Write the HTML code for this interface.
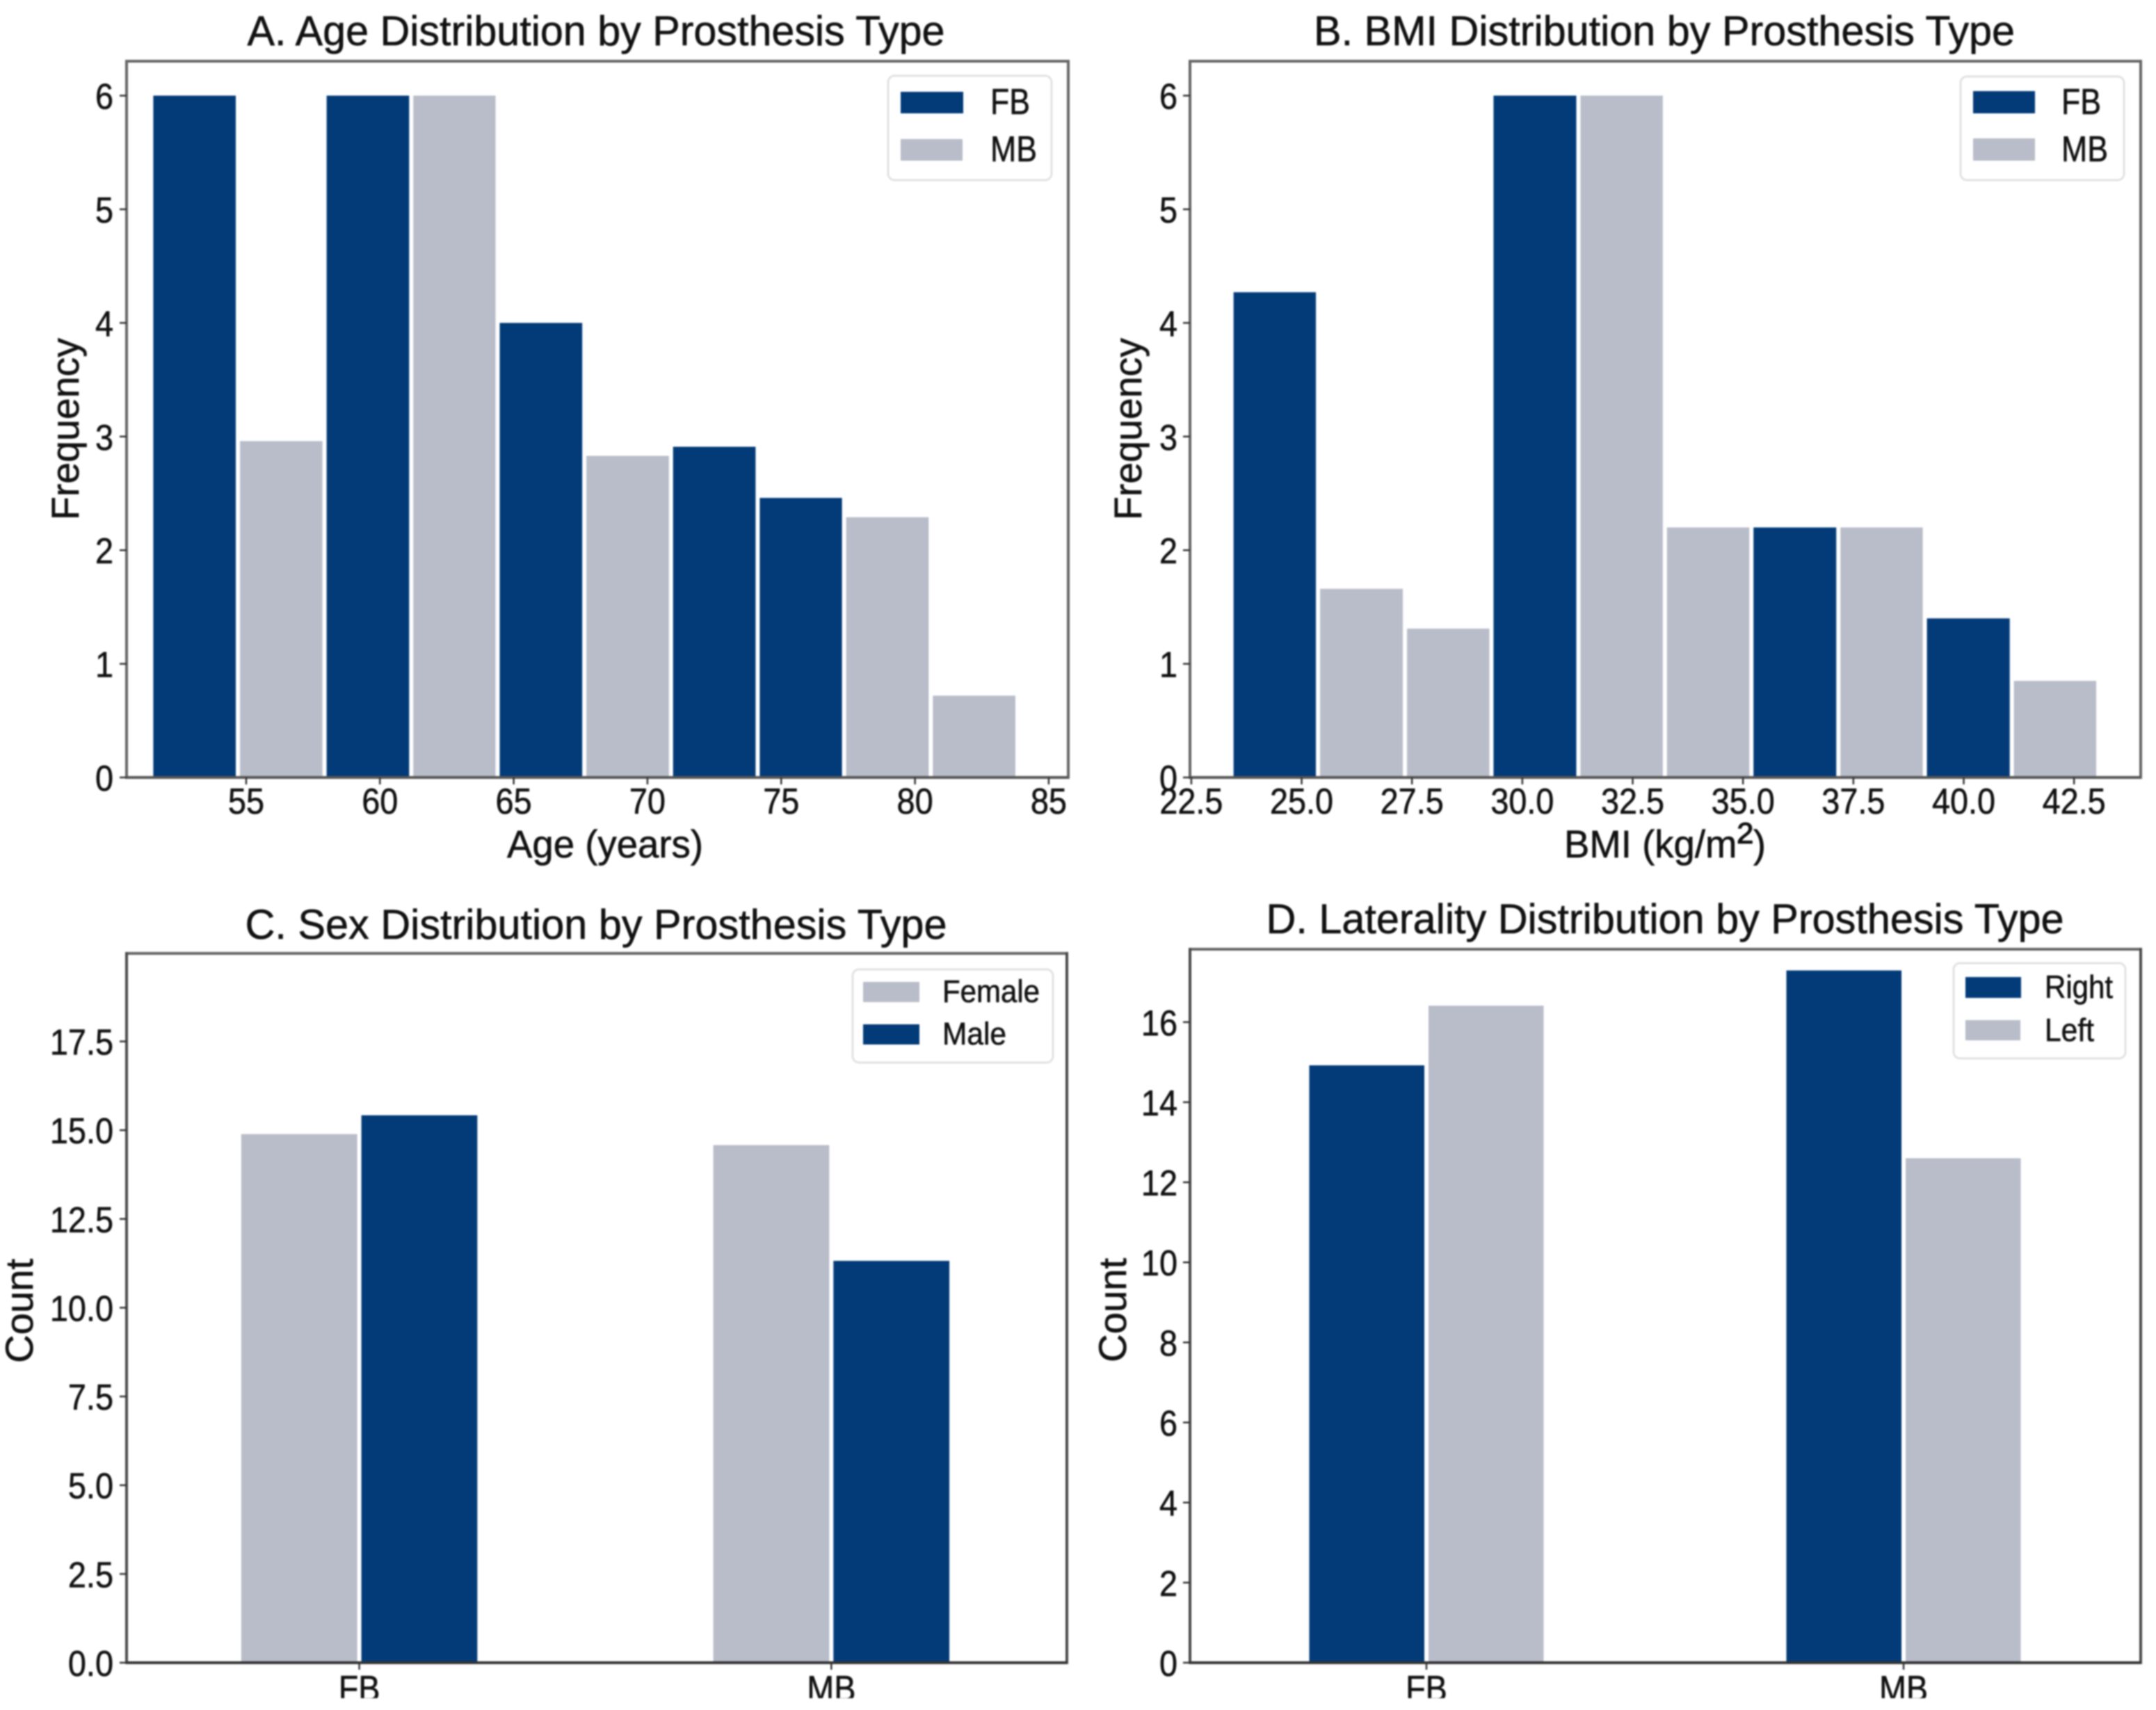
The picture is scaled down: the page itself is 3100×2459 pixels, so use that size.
<!DOCTYPE html>
<html lang="en">
<head>
<meta charset="utf-8">
<title>Prosthesis Type Distributions</title>
<style>
html,body{margin:0;padding:0;background:#fff;}
body{width:3100px;height:2459px;overflow:hidden;}
svg{display:block;filter:blur(1.1px);}
text{font-family:"Liberation Sans",Arial,sans-serif;fill:#111;stroke:#111;stroke-width:0.6px;}
.title{font-size:60px;}
.axis-label{font-size:56px;}
.legend-box{fill:#fff;stroke:#e2e2e2;stroke-width:3;}
.navy{fill:#033b78;}
.gray{fill:#b9bdc9;}
</style>
</head>
<body>
<svg id="figure" width="3100" height="2459" viewBox="0 0 3100 2459">
  <defs>
    <clipPath id="page-clip"><rect x="0" y="0" width="3100" height="2442"></rect></clipPath>
  </defs>
  <rect x="0" y="0" width="3100" height="2459" fill="#ffffff"></rect>

  <g>
    <g id="marks-a"></g>
    <text class="title" x="857" y="65" text-anchor="middle" textLength="1003" lengthAdjust="spacingAndGlyphs">A. Age Distribution by Prosthesis Type</text>
    <text class="axis-label" x="870" y="1233" text-anchor="middle" textLength="282" lengthAdjust="spacingAndGlyphs">Age (years)</text>
    <text class="axis-label" text-anchor="middle" textLength="262" lengthAdjust="spacingAndGlyphs" transform="translate(113,617) rotate(-90)">Frequency</text>
    <g>
      <rect class="legend-box" x="1277" y="109" width="235" height="150" rx="9"></rect>
      <rect class="navy" x="1295" y="132" width="90" height="31"></rect>
      <rect class="gray" x="1295" y="200" width="89" height="31"></rect>
      <text x="1424" y="164" font-size="52" textLength="57" lengthAdjust="spacingAndGlyphs">FB</text>
      <text x="1424" y="232" font-size="52" textLength="67" lengthAdjust="spacingAndGlyphs">MB</text>
    </g>
  </g>

  <g>
    <g id="marks-b"></g>
    <text class="title" x="2393" y="65" text-anchor="middle" textLength="1008" lengthAdjust="spacingAndGlyphs">B. BMI Distribution by Prosthesis Type</text>
    <text class="axis-label" x="2394" y="1233" text-anchor="middle" textLength="290" lengthAdjust="spacingAndGlyphs">BMI (kg/m<tspan font-size="72">²</tspan>)</text>
    <text class="axis-label" text-anchor="middle" textLength="262" lengthAdjust="spacingAndGlyphs" transform="translate(1641,617) rotate(-90)">Frequency</text>
    <g>
      <rect class="legend-box" x="2819" y="110" width="235" height="149" rx="9"></rect>
      <rect class="navy" x="2837" y="131" width="89" height="32"></rect>
      <rect class="gray" x="2837" y="199" width="89" height="32"></rect>
      <text x="2964" y="164" font-size="52" textLength="57" lengthAdjust="spacingAndGlyphs">FB</text>
      <text x="2964" y="232" font-size="52" textLength="67" lengthAdjust="spacingAndGlyphs">MB</text>
    </g>
  </g>

  <g clip-path="url(#page-clip)">
    <g id="marks-c"></g>
    <text class="title" x="857" y="1350" text-anchor="middle" textLength="1009" lengthAdjust="spacingAndGlyphs">C. Sex Distribution by Prosthesis Type</text>
    <text class="axis-label" text-anchor="middle" textLength="150" lengthAdjust="spacingAndGlyphs" transform="translate(47,1885) rotate(-90)">Count</text>
    <g>
      <rect class="legend-box" x="1226" y="1394" width="288" height="134" rx="9"></rect>
      <rect class="gray" x="1241" y="1412" width="81" height="29"></rect>
      <rect class="navy" x="1241" y="1473" width="81" height="29"></rect>
      <text x="1355" y="1441" font-size="45" textLength="140" lengthAdjust="spacingAndGlyphs">Female</text>
      <text x="1355" y="1502" font-size="45" textLength="92" lengthAdjust="spacingAndGlyphs">Male</text>
    </g>
  </g>

  <g clip-path="url(#page-clip)">
    <g id="marks-d"></g>
    <text class="title" x="2394" y="1342" text-anchor="middle" textLength="1147" lengthAdjust="spacingAndGlyphs">D. Laterality Distribution by Prosthesis Type</text>
    <text class="axis-label" text-anchor="middle" textLength="150" lengthAdjust="spacingAndGlyphs" transform="translate(1619,1884) rotate(-90)">Count</text>
    <g>
      <rect class="legend-box" x="2809" y="1385" width="247" height="137" rx="9"></rect>
      <rect class="navy" x="2826" y="1405" width="80" height="30"></rect>
      <rect class="gray" x="2826" y="1467" width="79" height="29"></rect>
      <text x="2940" y="1435" font-size="46" textLength="98" lengthAdjust="spacingAndGlyphs">Right</text>
      <text x="2940" y="1497" font-size="46" textLength="71" lengthAdjust="spacingAndGlyphs">Left</text>
    </g>
  </g>
</svg>

<script>
// Chart A: age histogram
const ageBinEdges = [51.45, 54.69, 57.93, 61.17, 64.40, 67.64, 70.88, 74.12, 77.35, 80.59, 83.83];
const ageCounts = [6, 2.96, 6, 6, 4, 2.83, 2.91, 2.46, 2.29, 0.72];
const ageGroups = ['FB', 'MB', 'FB', 'MB', 'FB', 'MB', 'FB', 'FB', 'MB', 'MB'];
const ageXTicks = ['55', '60', '65', '70', '75', '80', '85'];
const ageYTicks = ['0', '1', '2', '3', '4', '5', '6'];

// Chart B: BMI histogram
const bmiBinEdges = [23.41, 25.37, 27.34, 29.30, 31.27, 33.23, 35.19, 37.16, 39.12, 41.09, 43.05];
const bmiCounts = [4.27, 1.66, 1.31, 6, 6, 2.2, 2.2, 2.2, 1.4, 0.85];
const bmiGroups = ['FB', 'MB', 'MB', 'FB', 'MB', 'MB', 'FB', 'MB', 'FB', 'MB'];
const bmiXTicks = ['22.5', '25.0', '27.5', '30.0', '32.5', '35.0', '37.5', '40.0', '42.5'];
const bmiYTicks = ['0', '1', '2', '3', '4', '5', '6'];

// Chart C: sex by prosthesis
const sexCategories = ['FB', 'MB'];
const sexFemale = [14.89, 14.58];
const sexMale = [15.42, 11.32];
const sexYTicks = ['0.0', '2.5', '5.0', '7.5', '10.0', '12.5', '15.0', '17.5'];

// Chart D: laterality by prosthesis
const lateralityCategories = ['FB', 'MB'];
const lateralityRight = [14.92, 17.29];
const lateralityLeft = [16.41, 12.60];
const lateralityYTicks = ['0', '2', '4', '6', '8', '10', '12', '14', '16'];

const NAVY = '#033b78';
const GRAY = '#b9bdc9';
const svgNS = document.getElementById('figure').namespaceURI;

function makeScale(d0, d1, r0, r1) {
  return function (v) { return r0 + (v - d0) * (r1 - r0) / (d1 - d0); };
}

function addBar(parent, x0, x1, yTop, yBase, color, name) {
  const gap = 3;
  const r = document.createElementNS(svgNS, 'rect');
  r.setAttribute('x', x0 + gap);
  r.setAttribute('y', yTop);
  r.setAttribute('width', Math.max(0, x1 - x0 - 2 * gap));
  r.setAttribute('height', Math.max(0, yBase - yTop));
  r.setAttribute('fill', color);
  
  
  parent.appendChild(r);
}

function addTickLabel(parent, x, y, str, anchor, name) {
  const t = document.createElementNS(svgNS, 'text');
  t.setAttribute('x', x);
  t.setAttribute('y', y);
  t.setAttribute('font-size', '52');
  t.setAttribute('text-anchor', anchor);
  t.textContent = str;
  
  
  parent.appendChild(t);
  t.setAttribute('lengthAdjust', 'spacingAndGlyphs');
  t.setAttribute('textLength', (t.getComputedTextLength() * 0.9).toFixed(1));
}

function addLine(parent, x1, y1, x2, y2, color, width, name) {
  const l = document.createElementNS(svgNS, 'line');
  l.setAttribute('x1', x1);
  l.setAttribute('y1', y1);
  l.setAttribute('x2', x2);
  l.setAttribute('y2', y2);
  l.setAttribute('stroke', color);
  l.setAttribute('stroke-width', width);
  
  
  parent.appendChild(l);
}

function drawFrame(parent, box, prefix, colors) {
  addLine(parent, box.left, box.top, box.right, box.top, colors.top, 4, prefix + '-top-spine');
  addLine(parent, box.right, box.top - 2, box.right, box.bottom + 2, colors.side, 4, prefix + '-right-spine');
  addLine(parent, box.left, box.top - 2, box.left, box.bottom + 2, colors.side, 4, prefix + '-left-spine');
  addLine(parent, box.left, box.bottom, box.right, box.bottom, colors.bottom, 4, prefix + '-bottom-spine');
}

function drawYAxis(parent, box, y, ticks, prefix) {
  ticks.forEach(function (label) {
    const py = y(parseFloat(label));
    addLine(parent, box.left - 10, py, box.left, py, '#333333', 2.5, prefix + '-y-tick');
    addTickLabel(parent, box.tickRight, py + 19, label, 'end', prefix + '-y-tick-label');
  });
}

function drawHistogram(id, box, xDomain, yDomain, edges, counts, groups, xTicks, yTicks, prefix) {
  const g = document.getElementById(id);
  const x = makeScale(xDomain[0], xDomain[1], box.left, box.right);
  const y = makeScale(yDomain[0], yDomain[1], box.bottom, box.top);
  counts.forEach(function (c, i) {
    const color = groups[i] === 'FB' ? NAVY : GRAY;
    addBar(g, x(edges[i]), x(edges[i + 1]), y(c), y(0), color, prefix + '-bar-' + groups[i].toLowerCase());
  });
  drawFrame(g, box, prefix, { top: '#666666', side: '#666666', bottom: '#555555' });
  xTicks.forEach(function (label) {
    const px = x(parseFloat(label));
    addLine(g, px, box.bottom, px, box.bottom + 10, '#333333', 2.5, prefix + '-x-tick');
    addTickLabel(g, px, 1170, label, 'middle', prefix + '-x-tick-label');
  });
  drawYAxis(g, box, y, yTicks, prefix);
}

function drawGrouped(id, box, xDomain, yDomain, categories, first, second, colors, barWidth, yTicks, prefix, names) {
  const g = document.getElementById(id);
  const x = makeScale(xDomain[0], xDomain[1], box.left, box.right);
  const y = makeScale(yDomain[0], yDomain[1], box.bottom, box.top);
  categories.forEach(function (cat, i) {
    addBar(g, x(i - barWidth), x(i), y(first[i]), y(0), colors[0], prefix + '-bar-' + names[0] + '-' + cat.toLowerCase());
    addBar(g, x(i), x(i + barWidth), y(second[i]), y(0), colors[1], prefix + '-bar-' + names[1] + '-' + cat.toLowerCase());
  });
  drawFrame(g, box, prefix, { top: '#666666', side: '#4a4a4a', bottom: '#333333' });
  categories.forEach(function (cat, i) {
    const px = x(i);
    addLine(g, px, box.bottom, px, box.bottom + 10, '#333333', 2.5, prefix + '-x-tick');
    addTickLabel(g, px, 2446, cat, 'middle', prefix + '-x-tick-label');
  });
  drawYAxis(g, box, y, yTicks, prefix);
}

drawHistogram('marks-a',
  { left: 182, right: 1536, top: 88, bottom: 1118, tickRight: 163 },
  [50.53, 85.73], [0, 6.303],
  ageBinEdges, ageCounts, ageGroups, ageXTicks, ageYTicks, 'age');

drawHistogram('marks-b',
  { left: 1711, right: 3078, top: 88, bottom: 1118, tickRight: 1693 },
  [22.47, 44.01], [0, 6.303],
  bmiBinEdges, bmiCounts, bmiGroups, bmiXTicks, bmiYTicks, 'bmi');

drawGrouped('marks-c',
  { left: 182, right: 1534, top: 1371, bottom: 2391, tickRight: 163 },
  [-0.493, 1.499], [0, 19.98],
  sexCategories, sexFemale, sexMale, [GRAY, NAVY], 0.2545, sexYTicks, 'sex', ['female', 'male']);

drawGrouped('marks-d',
  { left: 1711, right: 3078, top: 1365, bottom: 2391, tickRight: 1693 },
  [-0.4956, 1.497], [0, 17.82],
  lateralityCategories, lateralityRight, lateralityLeft, [NAVY, GRAY], 0.25, lateralityYTicks, 'laterality', ['right', 'left']);
</script>
</body>
</html>
